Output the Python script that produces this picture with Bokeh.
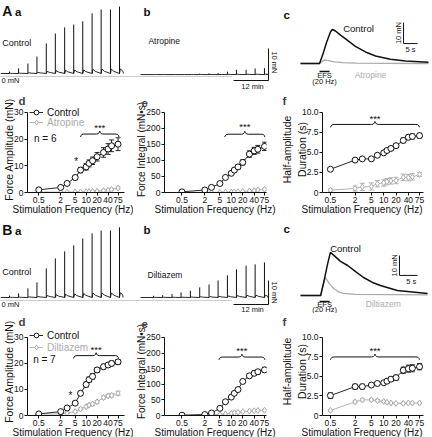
import numpy as np
from bokeh.plotting import figure
from bokeh.models import (Range1d, FixedTicker, CustomJSTickFormatter, Label, Legend,
                          LegendItem, Title)
from bokeh.layouts import column, row
from bokeh.embed import file_html
from bokeh.resources import INLINE

FONT = "Liberation Sans"
BLACK = "#111111"
GRAY = "#ababab"
DOT = "#9a9a9a"


def px(v):
    return f"{v}px"


# ---------------- data ----------------
freq = [0.5, 2, 3, 5, 7, 10, 12, 15, 20, 30, 40, 50, 75]
freq_ticks = [0.5, 2, 5, 10, 20, 40, 75]
amp_ticks = [0, 10, 20, 30]
int_ticks = [0, 50, 100, 150, 200, 250]
dur_ticks = [0, 2.5, 5, 7.5, 10]

A_amp_ctrl = [1.0, 1.9, 3.4, 5.6, 8.4, 9.6, 10.9, 11.9, 13.4, 15.0, 16.3, 17.5, 18.1]
A_amp_ctrl_err = [0.3, 0.4, 0.5, 0.8, 1.0, 1.2, 1.3, 1.4, 1.6, 1.8, 2.0, 2.2, 2.4]
A_amp_atr = [0.2, 0.1, 0.1, 0.2, 0.2, 0.3, 0.3, 0.4, 0.5, 0.7, 0.9, 1.1, 1.7]
A_amp_atr_err = [0.1, 0.1, 0.1, 0.1, 0.1, 0.1, 0.15, 0.15, 0.2, 0.2, 0.25, 0.3, 0.35]

A_int_ctrl = [2, 8, 16, 28, 47, 60, 70, 80, 94, 120, 130, 135, 144]
A_int_ctrl_err = [1, 2, 2, 3, 4, 5, 6, 7, 8, 10, 11, 12, 13]
A_int_atr = [0.5, 0.5, 0.5, 0.7, 1, 1.5, 2, 2.5, 3, 5, 6, 8, 10]
A_int_atr_err = [0.3, 0.3, 0.3, 0.4, 0.5, 0.6, 0.8, 1.0, 1.2, 1.5, 1.7, 2.0, 2.2]

A_dur_ctrl = [2.9, 4.05, 4.2, 4.2, 4.65, 4.95, 5.25, 5.5, 5.85, 6.5, 6.9, 7.0, 7.1]
A_dur_ctrl_err = [0.2, 0.15, 0.15, 0.15, 0.15, 0.2, 0.2, 0.25, 0.25, 0.3, 0.3, 0.3, 0.3]
A_dur_atr = [0.3, 0.5, 0.7, 0.75, 1.1, 1.2, 1.35, 1.45, 1.5, 1.9, 1.85, 1.95, 2.25]
A_dur_atr_err = [0.15, 0.3, 0.45, 0.45, 0.4, 0.4, 0.4, 0.4, 0.4, 0.4, 0.4, 0.4, 0.25]

B_amp_ctrl = [0.6, 1.5, 2.9, 4.75, 8.5, 11.9, 13.75, 15.0, 17.5, 18.75, 19.4, 20.0, 20.6]
B_amp_ctrl_err = [0.3, 0.4, 0.5, 0.6, 0.8, 0.9, 1.0, 1.0, 0.9, 0.9, 0.8, 0.9, 0.9]
B_amp_dil = [0.6, 0.6, 1.0, 1.5, 2.5, 3.4, 4.0, 4.4, 5.25, 6.9, 7.5, 7.75, 8.5]
B_amp_dil_err = [0.2, 0.3, 0.3, 0.4, 0.4, 0.5, 0.5, 0.5, 0.5, 0.6, 0.6, 0.7, 0.8]

B_int_ctrl = [1, 3, 8, 23, 44, 59, 71, 83, 109, 127, 135, 140, 146]
B_int_ctrl_err = [1, 1.5, 2, 3, 4, 4, 4, 5, 5, 6, 7, 7, 8]
B_int_dil = [0.5, 1, 2, 3, 5, 7, 9, 10, 12, 14, 15, 16, 17]
B_int_dil_err = [0.3, 0.5, 0.6, 0.8, 1, 1.2, 1.4, 1.5, 1.7, 2, 2.2, 2.4, 2.6]

B_dur_ctrl = [2.55, 3.7, 3.7, 3.9, 4.1, 4.2, 4.4, 4.65, 4.85, 5.8, 6.0, 6.05, 6.25]
B_dur_ctrl_err = [0.35, 0.3, 0.3, 0.2, 0.2, 0.2, 0.2, 0.25, 0.3, 0.4, 0.45, 0.45, 0.4]
B_dur_dil = [0.65, 1.75, 2.0, 2.0, 1.9, 1.8, 1.7, 1.6, 1.55, 1.55, 1.6, 1.6, 1.6]
B_dur_dil_err = [0.1, 0.15, 0.15, 0.15, 0.15, 0.1, 0.1, 0.1, 0.1, 0.1, 0.1, 0.1, 0.1]

# significance braces: (low Hz, high Hz, level, label level)
A_brace_amp = (7, 80, 21.9, 24.3)
A_brace_int = (6.7, 77, 182, 205)
A_brace_dur = (0.5, 75, 8.5, 9.3)
B_brace_amp = (4.5, 78, 23.0, 25.3)
B_brace_int = (4.7, 77, 187, 208)
B_brace_dur = (0.5, 75, 7.5, 8.3)
A_star = (5.3, 11.5)
B_star = (3.7, 7.8)

# original recordings (spike trains, minutes / mN)
stim_t_a = [3.1, 6.2, 9.4, 12.5, 15.7, 18.8, 22.0, 25.1, 28.2, 31.4, 34.5, 37.7, 40.8]
stim_t_b = [52.5, 55.6, 58.8, 61.9, 65.1, 68.3, 71.5, 74.6, 77.8, 80.9, 84.2, 87.3, 90.5]
A_a_amp = [0.6, 1.6, 3.1, 5.3, 9.4, 12.5, 14.4, 15.3, 16.3, 18.8, 20.0, 20.0, 20.9]
A_b_amp = [0.1, 0.1, 0.15, 0.15, 0.2, 0.3, 0.4, 0.5, 0.9, 1.5, 1.5, 1.9, 2.0]
B_a_amp = [0.8, 1.7, 3.8, 6.3, 12.1, 16.3, 19.2, 21.7, 24.6, 26.7, 27.9, 27.9, 29.2]
B_b_amp = [0.7, 1.0, 1.4, 2.1, 2.8, 4.2, 5.4, 7.1, 9.2, 11.7, 13.3, 13.8, 14.6]

# single contractions at 20 Hz (s / mN)
A_c_ctrl_t = [0, 6.8, 7.9, 9.3, 10.7, 11.4, 12.5, 14.3, 16.8, 19.6, 23.2, 26.8, 32.1, 37.5, 45.7]
A_c_ctrl_f = [0, 0, 4, 10, 15, 16.2, 15.5, 13.5, 11, 8.2, 5.5, 3.6, 2.0, 1.2, 0.6]
A_c_atr_t = [0, 6.8, 7.5, 8.6, 10, 12, 15, 20, 30, 45.7]
A_c_atr_f = [0, 0, 0.8, 1.7, 1.4, 0.8, 0.4, 0.2, 0.1, 0]
B_c_ctrl_t = [0, 5.6, 6.4, 7.5, 8.3, 9.2, 11.1, 13.1, 15.3, 17.5, 20, 22.2, 26.9, 35.3]
B_c_ctrl_f = [0, 0, 6, 15, 20.8, 19.5, 16.5, 14.5, 11.5, 8.7, 6.3, 4.8, 2.4, 1.0]
B_c_dil_t = [0, 5.6, 6.1, 6.9, 8.1, 9.2, 10.6, 11.9, 15.3, 35.3]
B_c_dil_f = [0, 0, 4, 8.7, 5.5, 3.4, 1.8, 1.0, 0.5, 0.3]


# ---------------- helpers ----------------
def lab(p, x, y, text, size, color=BLACK, align="left", baseline="middle", angle=0, bold=False):
    p.add_layout(Label(x=x, y=y, text=text, text_font=FONT, text_font_size=px(size),
                       text_color=color, text_align=align, text_baseline=baseline,
                       angle=angle, angle_units="deg",
                       text_font_style="bold" if bold else "normal"))


def trace_fig(w, h, xr, yr):
    p = figure(width=w, height=h, x_range=Range1d(*xr), y_range=Range1d(*yr),
               x_axis_location=None, y_axis_location=None, output_backend="svg",
               toolbar_location=None, min_border=0)
    p.outline_line_color = None
    p.xgrid.visible = False
    p.ygrid.visible = False
    return p


def spikes(p, times, amps, base, t0, t1):
    xs, ys = [t0], [base]
    for t, a in zip(times, amps):
        xs += [t, t + 0.3, t + 1.1]
        ys += [base, base + 0.07 * a, base + 0.035 * a]
    xs.append(t1)
    ys.append(base)
    p.line(xs, ys, line_color=BLACK, line_width=0.9)
    p.segment(x0=times, y0=[base] * len(times), x1=times, y1=[base + a for a in amps],
              line_color=BLACK, line_width=1)


def plot_panel(w, h, bl, br, bt, bb, xr, yr, ybounds, yticks, yfmt, letter, letter_off,
               ylabel, ylabel_standoff, xlabel_off, extra_left=None, ylabel_size="10.5px"):
    p = figure(width=w, height=h, x_axis_type="log",
               x_range=Range1d(*xr), y_range=Range1d(*yr), output_backend="svg",
               toolbar_location=None,
               min_border_left=bl, min_border_right=br, min_border_top=bt, min_border_bottom=bb)
    p.outline_line_color = None
    p.xgrid.visible = False
    p.ygrid.visible = False
    p.xaxis.ticker = FixedTicker(ticks=freq_ticks)
    p.xaxis.formatter = CustomJSTickFormatter(code="return String(tick)")
    p.yaxis.ticker = FixedTicker(ticks=yticks)
    p.yaxis.formatter = CustomJSTickFormatter(code=yfmt)
    p.yaxis.bounds = ybounds
    for ax in (p.xaxis[0], p.yaxis[0]):
        ax.axis_line_color = BLACK
        ax.major_tick_line_color = BLACK
        ax.minor_tick_line_color = None
        ax.major_tick_out = 3
        ax.major_tick_in = 0
        ax.major_label_text_font = FONT
        ax.major_label_text_font_size = "8.5px"
        ax.major_label_text_color = BLACK
        ax.major_label_standoff = 1
    ya = p.yaxis[0]
    ya.axis_label = ylabel
    ya.axis_label_text_font = FONT
    ya.axis_label_text_font_size = ylabel_size
    ya.axis_label_text_font_style = "normal"
    ya.axis_label_text_color = BLACK
    ya.axis_label_standoff = ylabel_standoff
    # panel letter
    p.title.text = letter
    p.title.text_font = FONT
    p.title.text_font_size = "11.5px"
    p.title.text_font_style = "bold"
    p.title.align = "left"
    p.title.offset = letter_off
    p.title.standoff = 0
    # x-axis title (left aligned, shifted by offset from the frame's left edge)
    p.add_layout(Title(text="Stimulation Frequency (Hz)", align="left", offset=xlabel_off,
                       standoff=-8, text_font=FONT, text_font_size="10px",
                       text_font_style="normal", text_color=BLACK), "below")
    if extra_left:
        p.add_layout(Title(text=extra_left, align="center", standoff=0, text_font=FONT,
                           text_font_size="10.5px", text_font_style="normal",
                           text_color=BLACK), "left")
    return p


def series(p, y, err, color, marker):
    lo = [a - e for a, e in zip(y, err)]
    hi = [a + e for a, e in zip(y, err)]
    p.segment(x0=freq, y0=lo, x1=freq, y1=hi, line_color=color, line_width=0.9)
    p.scatter(x=freq, y=lo, marker="dash", size=5, line_color=color, line_width=0.9)
    p.scatter(x=freq, y=hi, marker="dash", size=5, line_color=color, line_width=0.9)
    ln = p.line(x=freq, y=y, line_color=color, line_width=0.9)
    mk = p.scatter(x=freq, y=y, marker=marker, size=6, line_color=color,
                   fill_color="white", line_width=1)
    return ln, mk


def brace(p, br, h, color=BLACK):
    x0, x1, y, ys = br
    u0, u1 = np.log10(x0), np.log10(x1)
    um = (u0 + u1) / 2
    du = 0.09
    us = [u0, u0 + 0.15 * du, u0 + 0.45 * du, u0 + du,
          um - du, um - 0.45 * du, um - 0.15 * du, um,
          um + 0.15 * du, um + 0.45 * du, um + du,
          u1 - du, u1 - 0.45 * du, u1 - 0.15 * du, u1]
    yy = [y - h, y - 0.55 * h, y - 0.12 * h, y,
          y, y + 0.12 * h, y + 0.55 * h, y + h,
          y + 0.55 * h, y + 0.12 * h, y,
          y, y - 0.12 * h, y - 0.55 * h, y - h]
    p.line(x=[10 ** u for u in us], y=yy, line_color=color, line_width=1)
    lab(p, 10 ** um, ys, "***", 9.5, align="center")


def legend(p, renderers, text, color, x, y):
    lg = Legend(items=[LegendItem(label=text, renderers=list(renderers))], location=(x, y),
                border_line_color=None, background_fill_alpha=0, padding=0, margin=0,
                spacing=0, glyph_width=14, glyph_height=12,
                label_height=10, label_standoff=4,
                label_text_font=FONT, label_text_font_size="10px", label_text_color=color)
    p.add_layout(lg)


FMT_INT = "return String(tick)"
FMT_DUR = "return tick === 0 ? '0' : tick.toFixed(1)"
XR_D = (0.245, 113)
XR_E = (0.173, 84.6)
XR_F = (0.32, 93.6)

# figure sizes (px)
W_AB, W_C = 280, 152
W_D, W_E, W_F = 133, 145, 154
H1, H2, H3, H4 = 92, 123, 98, 124

# ---------------- Row A traces ----------------
pa = trace_fig(W_AB, H1, (0, 96.0), (-5.0, 23.75))
pa.line([0, 79.5], [0, 0], line_color=DOT, line_dash="1 1", line_width=1)
spikes(pa, stim_t_a, A_a_amp, 0.94, 0, 42.2)
spikes(pa, stim_t_b, A_b_amp, 0.6, 48, 91.2)
pa.line([79.9, 91.9, 91.9], [-1.25, -1.25, 8.75], line_color=BLACK, line_width=1)
lab(pa, 0.6, 20.6, "A", 14, bold=True)
lab(pa, 5.0, 20.3, "a", 11.5, bold=True)
lab(pa, 49.0, 20.3, "b", 11.5, bold=True)
lab(pa, 0.6, 10.6, "Control", 9)
lab(pa, 50.7, 11.2, "Atropine", 8.5)
lab(pa, 0.3, -1.3, "0 mN", 7.5)
lab(pa, 93.9, 4.4, "10 mN", 7.5, align="center", angle=-90)
lab(pa, 86.4, -3.1, "12 min", 7.5, align="center")

pc = trace_fig(W_C, H1, (-7.14, 47.14), (-13.8, 30))
pc.line(A_c_atr_t, A_c_atr_f, line_color=GRAY, line_width=1.3)
pc.line(A_c_ctrl_t, A_c_ctrl_f, line_color=BLACK, line_width=1.5)
pc.line([36.8, 36.8, 41.8], [19.5, 9.5, 9.5], line_color=BLACK, line_width=1)
pc.line([6.8, 10.4], [-3.8, -3.8], line_color=BLACK, line_width=1.5)
lab(pc, -6.1, 23.3, "c", 11.5, bold=True)
lab(pc, 20.7, 16.7, "Control", 9.5, align="center")
lab(pc, 25.0, -5.7, "Atropine", 8.5, color=GRAY, align="center")
lab(pc, 8.6, -5.7, "EFS", 7.5, align="center")
lab(pc, 8.6, -8.6, "(20 Hz)", 7.5, align="center")
lab(pc, 35.0, 14.5, "10 mN", 7.5, align="center", angle=90)
lab(pc, 39.3, 6.7, "5 s", 7.5, align="center")

# ---------------- Row A plots ----------------
pdA = plot_panel(W_D, H2, 21, 9, 13, 23, XR_D, (0, 32.22), (0, 30), amp_ticks, FMT_INT,
                 "d", -9, "Force Amplitude (mN)", -4, -15)
aA = series(pdA, A_amp_atr, A_amp_atr_err, GRAY, "diamond")
cA = series(pdA, A_amp_ctrl, A_amp_ctrl_err, BLACK, "circle")
brace(pdA, A_brace_amp, 1.1)
lab(pdA, A_star[0], A_star[1], "*", 10, align="center")
lab(pdA, 0.37, 20.4, "n = 6", 10)
legend(pdA, cA, "Control", BLACK, 2, 74)
legend(pdA, aA, "Atropine", GRAY, 2, 64)

peA = plot_panel(W_E, H2, 28, 12, 13, 23, XR_E, (0, 268.5), (0, 250), int_ticks, FMT_INT,
                 "e", -23, "Force Integral (mN\u2022s)", -4, -10, ylabel_size="10px")
series(peA, A_int_atr, A_int_atr_err, GRAY, "diamond")
series(peA, A_int_ctrl, A_int_ctrl_err, BLACK, "circle")
brace(peA, A_brace_int, 9)

pfA = plot_panel(W_F, H2, 43, 9, 13, 23, XR_F, (0, 10.74), (0, 10), dur_ticks, FMT_DUR,
                 "f", -40, "Duration (s)", -9, -21, extra_left="Half-amplitude")
series(pfA, A_dur_atr, A_dur_atr_err, GRAY, "diamond")
series(pfA, A_dur_ctrl, A_dur_ctrl_err, BLACK, "circle")
brace(pfA, A_brace_dur, 0.36)

# ---------------- Row B traces ----------------
pb = trace_fig(W_AB, H3, (0, 96.0), (-5.42, 35.4))
pb.line([0, 79.5], [0, 0], line_color=DOT, line_dash="1 1", line_width=1)
spikes(pb, stim_t_a, B_a_amp, 1.25, 0, 42.0)
spikes(pb, stim_t_b, B_b_amp, 1.25, 48, 91.5)
pb.line([79.9, 91.9, 91.9], [-1.67, -1.67, 8.33], line_color=BLACK, line_width=1)
lab(pb, 0.6, 29.2, "B", 14, bold=True)
lab(pb, 5.0, 28.9, "a", 11.5, bold=True)
lab(pb, 49.0, 29.4, "b", 11.5, bold=True)
lab(pb, 0.6, 11.7, "Control", 9)
lab(pb, 50.4, 10.8, "Diltiazem", 8.5)
lab(pb, 0.3, -1.7, "0 mN", 7.5)
lab(pb, 93.9, 3.3, "10 mN", 7.5, align="center", angle=-90)
lab(pb, 86.4, -3.6, "12 min", 7.5, align="center")

pc2 = trace_fig(W_C, H3, (-5.56, 36.67), (-8.7, 38.65))
pc2.line(B_c_dil_t, B_c_dil_f, line_color=GRAY, line_width=1.3)
pc2.line(B_c_ctrl_t, B_c_ctrl_f, line_color=BLACK, line_width=1.5)
pc2.line([27.5, 27.5, 32.5], [19.3, 9.7, 9.7], line_color=BLACK, line_width=1)
pc2.line([5.3, 8.1], [-2.9, -2.9], line_color=BLACK, line_width=1.5)
lab(pc2, -4.7, 31.9, "c", 11.5, bold=True)
lab(pc2, 12.5, 22.7, "Control", 9.5, align="center")
lab(pc2, 23.0, -4.3, "Diltiazem", 8.5, color=GRAY, align="center")
lab(pc2, 6.7, -4.3, "EFS", 7.5, align="center")
lab(pc2, 6.7, -7.0, "(20 Hz)", 7.5, align="center")
lab(pc2, 26.1, 14.5, "10 mN", 7.5, align="center", angle=90)
lab(pc2, 30.8, 6.8, "5 s", 7.5, align="center")

# ---------------- Row B plots ----------------
pdB = plot_panel(W_D, H4, 21, 9, 13, 22, XR_D, (0, 33.8), (0, 30), amp_ticks, FMT_INT,
                 "d", -9, "Force Amplitude (mN)", -4, -15)
dB = series(pdB, B_amp_dil, B_amp_dil_err, GRAY, "diamond")
cB = series(pdB, B_amp_ctrl, B_amp_ctrl_err, BLACK, "circle")
brace(pdB, B_brace_amp, 1.1)
lab(pdB, B_star[0], B_star[1], "*", 10, align="center")
lab(pdB, 0.35, 21.7, "n = 7", 10)
legend(pdB, cB, "Control", BLACK, 2, 74)
legend(pdB, dB, "Diltiazem", GRAY, 2, 62)

peB = plot_panel(W_E, H4, 28, 12, 13, 22, XR_E, (0, 281.6), (0, 250), int_ticks, FMT_INT,
                 "e", -23, "Force Integral (mN\u2022s)", -4, -10, ylabel_size="10px")
series(peB, B_int_dil, B_int_dil_err, GRAY, "diamond")
series(peB, B_int_ctrl, B_int_ctrl_err, BLACK, "circle")
brace(peB, B_brace_int, 9)

pfB = plot_panel(W_F, H4, 43, 9, 13, 22, XR_F, (0, 11.27), (0, 10), dur_ticks, FMT_DUR,
                 "f", -40, "Duration (s)", -9, -21, extra_left="Half-amplitude")
series(pfB, B_dur_dil, B_dur_dil_err, GRAY, "diamond")
series(pfB, B_dur_ctrl, B_dur_ctrl_err, BLACK, "circle")
brace(pfB, B_brace_dur, 0.36)

layout = column(row(pa, pc), row(pdA, peA, pfA), row(pb, pc2), row(pdB, peB, pfB))
open("out.html", "w").write(file_html(layout, INLINE))
